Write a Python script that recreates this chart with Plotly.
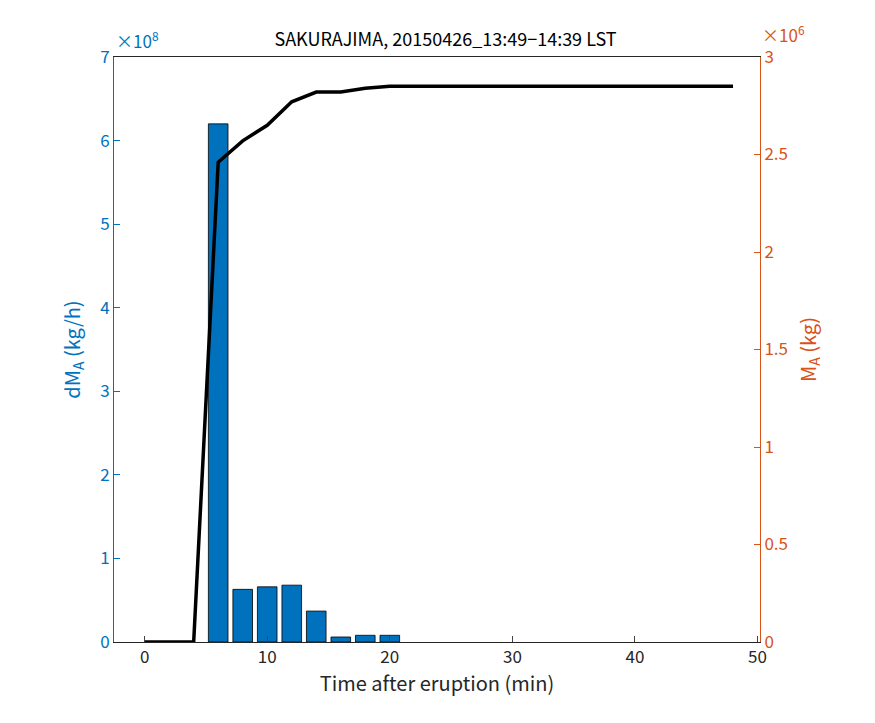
import plotly.graph_objects as go

# rate per 2-min bin (kg/h), in units of 1e8
bar_t = [6, 8, 10, 12, 14, 16, 18, 20]
bar_rate = [6.2, 0.63, 0.66, 0.68, 0.37, 0.06, 0.08, 0.08]

# cumulative mass (kg), in units of 1e6
line_t = [0, 2, 4, 6, 8, 10, 12, 14, 16, 18, 20, 22, 24, 26, 28, 30, 32, 34, 36, 38, 40, 42, 44, 46, 48]
line_mass = [0, 0, 0, 2.46, 2.57, 2.65, 2.77, 2.82, 2.82, 2.84, 2.85, 2.85, 2.85, 2.85, 2.85,
             2.85, 2.85, 2.85, 2.85, 2.85, 2.85, 2.85, 2.85, 2.85, 2.85]

blue = "#0072BD"
orange = "#D95319"
font = "Noto Sans CJK JP"

fig = go.Figure()
fig.add_trace(go.Bar(x=bar_t, y=bar_rate, width=1.6, marker=dict(color=blue, line=dict(color="black", width=0.8)),
                     yaxis="y"))
fig.add_trace(go.Scatter(x=line_t, y=line_mass, mode="lines", line=dict(color="black", width=3.5),
                         yaxis="y2"))

fig.update_layout(
    width=875, height=723, showlegend=False,
    plot_bgcolor="white", paper_bgcolor="white",
    margin=dict(l=106, r=123, t=49, b=89),
    font=dict(family=font, size=17, color="#262626"),
    title=dict(text="SAKURAJIMA, 20150426_13:49−14:39 LST", x=0.5, xanchor="center", y=0.965,
               font=dict(size=18, color="black")),
    xaxis=dict(range=[-2.5, 50.2], tickvals=[0, 10, 20, 30, 40, 50], ticks="inside", ticklen=6,
               showline=True, linecolor="#262626", mirror=True, showgrid=False, zeroline=False,
               automargin=False, title=dict(text="Time after eruption (min)", standoff=2)),
    yaxis=dict(range=[0, 7], tickvals=list(range(8)), ticks="inside", ticklen=6,
               showline=True, linecolor=blue, tickcolor=blue, tickfont=dict(color=blue),
               showgrid=False, zeroline=False, automargin=False,
               title=dict(text="dM<sub>A</sub> (kg/h)", font=dict(color=blue), standoff=14)),
    yaxis2=dict(range=[0, 3], tickvals=[0, 0.5, 1, 1.5, 2, 2.5, 3],
                ticktext=["0", "0.5", "1", "1.5", "2", "2.5", "3"],
                overlaying="y", side="right", ticks="inside", ticklen=6,
                showline=True, linecolor=orange, tickcolor=orange, tickfont=dict(color=orange),
                showgrid=False, zeroline=False, automargin=False,
                title=dict(text="M<sub>A</sub> (kg)", font=dict(color=orange), standoff=14)),
    annotations=[
        dict(text="×10<sup>8</sup>", xref="paper", yref="paper", x=0, y=1, xanchor="left", yanchor="bottom",
             yshift=2, showarrow=False, font=dict(color=blue, size=17)),
        dict(text="×10<sup>6</sup>", xref="paper", yref="paper", x=1, y=1, xanchor="left", yanchor="bottom",
             yshift=8, showarrow=False, font=dict(color=orange, size=17)),
    ],
)

fig.write_html("out.html")
